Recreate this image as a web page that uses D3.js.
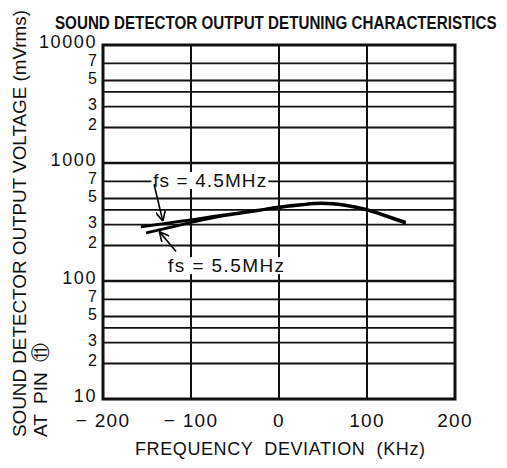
<!DOCTYPE html>
<html>
<head>
<meta charset="utf-8">
<script src="https://cdn.jsdelivr.net/npm/d3@7"></script>
<style>
  body { margin: 0; background: #fff; }
  svg { font-family: "Liberation Sans", Arial, sans-serif; }
</style>
</head>
<body>
<div id="chart"></div>
<script>
// frequency deviation (KHz) and output voltage (mVrms)
var freq45 = [-157, -125, -100, -75, -50, -25, 0, 25, 48, 75, 100, 120, 144];
var volt45 = [287, 311, 330, 352, 374, 398, 424, 445, 458, 441, 404, 362, 316];
var freq55 = [-151, -125, -100, -75, -50, -25, 0, 25, 48, 75, 100, 120, 144];
var volt55 = [255, 283, 314, 343, 368, 393, 418, 440, 452, 435, 398, 356, 308];

var xTicks = [-200, -100, 0, 100, 200];
var xTickLabels = ['\u2212 200', '\u2212 100', '0', '100', '200'];
var yGrid = [20, 30, 40, 50, 70, 100, 200, 300, 400, 500, 700, 1000, 2000, 3000, 4000, 5000, 7000];
var yDecades = [10, 100, 1000, 10000];
var yLabelVals = [10, 20, 30, 50, 70, 100, 200, 300, 500, 700, 1000, 2000, 3000, 5000, 7000, 10000];
var yLabelText = ['10', '2', '3', '5', '7', '100', '2', '3', '5', '7', '1000', '2', '3', '5', '7', '10000'];

(function(d3) {
  'use strict';
  var width = 507;
  var height = 468;
  var left = 103, right = 455, top = 45, bottom = 399;

  var svg = d3.select('#chart')
    .append('svg')
    .attr('width', width)
    .attr('height', height);

  var x = d3.scaleLinear().domain([-200, 200]).range([left, right]);
  var y = d3.scaleLog().domain([10, 10000]).range([bottom, top]);

  // grid
  svg.selectAll('.hgrid')
    .data(yGrid)
    .enter()
    .append('line')
    .attr('x1', left).attr('x2', right)
    .attr('y1', function(d) { return y(d); })
    .attr('y2', function(d) { return y(d); })
    .attr('stroke', '#111')
    .attr('stroke-width', function(d) { return yDecades.indexOf(d) >= 0 ? 2.6 : 1.8; });

  svg.selectAll('.vgrid')
    .data(xTicks.slice(1, -1))
    .enter()
    .append('line')
    .attr('y1', top).attr('y2', bottom)
    .attr('x1', function(d) { return x(d); })
    .attr('x2', function(d) { return x(d); })
    .attr('stroke', '#111')
    .attr('stroke-width', 2);

  svg.append('rect')
    .attr('x', left).attr('y', top)
    .attr('width', right - left).attr('height', bottom - top)
    .attr('fill', 'none')
    .attr('stroke', '#111')
    .attr('stroke-width', 3);

  // tick labels
  svg.selectAll('.ylab')
    .data(yLabelVals)
    .enter()
    .append('text')
    .attr('x', 97)
    .attr('y', function(d) { return y(d) + 3; })
    .attr('text-anchor', 'end')
    .attr('font-size', function(d) { return yDecades.indexOf(d) >= 0 ? 18 : 16; })
    .attr('letter-spacing', function(d) { return yDecades.indexOf(d) >= 0 ? 1.6 : 0; })
    .attr('fill', '#111')
    .text(function(d, i) { return yLabelText[i]; });

  svg.selectAll('.xlab')
    .data(xTicks)
    .enter()
    .append('text')
    .attr('x', function(d) { return x(d); })
    .attr('y', 427)
    .attr('text-anchor', 'middle')
    .attr('font-size', 19)
    .attr('letter-spacing', 1.3)
    .attr('fill', '#111')
    .text(function(d, i) { return xTickLabels[i]; });

  // titles (title squeezed horizontally like the condensed original)
  var title = svg.append('text')
    .attr('font-size', 19)
    .attr('font-weight', 'bold')
    .attr('fill', '#111')
    .text('SOUND DETECTOR OUTPUT DETUNING CHARACTERISTICS');
  var tw = title.node().getComputedTextLength();
  title.attr('transform', 'translate(55,29) scale(' + (442 / tw) + ',1)');

  svg.append('text')
    .attr('x', 135).attr('y', 455)
    .attr('font-size', 18)
    .attr('textLength', 290)
    .attr('fill', '#111')
    .attr('xml:space', 'preserve')
    .text('FREQUENCY  DEVIATION  (KHz)');

  svg.append('text')
    .attr('transform', 'translate(26,437) rotate(-90)')
    .attr('font-size', 19)
    .attr('textLength', 427)
    .attr('lengthAdjust', 'spacingAndGlyphs')
    .attr('fill', '#111')
    .text('SOUND  DETECTOR  OUTPUT  VOLTAGE  (mVrms)');

  svg.append('text')
    .attr('transform', 'translate(47,437) rotate(-90)')
    .attr('font-size', 19)
    .attr('fill', '#111')
    .attr('xml:space', 'preserve')
    .text('AT  PIN  \u246A');

  // curves
  var line = d3.line()
    .x(function(d) { return x(d[0]); })
    .y(function(d) { return y(d[1]); })
    .curve(d3.curveMonotoneX);

  svg.append('path')
    .datum(d3.zip(freq55, volt55))
    .attr('d', line)
    .attr('fill', 'none')
    .attr('stroke', '#000')
    .attr('stroke-width', 2.8);

  svg.append('path')
    .datum(d3.zip(freq45, volt45))
    .attr('d', line)
    .attr('fill', 'none')
    .attr('stroke', '#000')
    .attr('stroke-width', 2.8);

  // annotations
  svg.append('defs').append('marker')
    .attr('id', 'arr')
    .attr('viewBox', '0 0 10 10')
    .attr('refX', 10).attr('refY', 5)
    .attr('markerWidth', 10).attr('markerHeight', 10)
    .attr('markerUnits', 'userSpaceOnUse')
    .attr('orient', 'auto')
    .append('path')
    .attr('d', 'M0,0 L10,5 L0,10')
    .attr('fill', 'none')
    .attr('stroke', '#000')
    .attr('stroke-width', 1.6);

  var lab1 = svg.append('g');
  lab1.append('rect')
    .attr('x', x(-145)).attr('y', y(627) - 15)
    .attr('width', 117).attr('height', 17)
    .attr('fill', '#fff');
  lab1.append('text')
    .attr('x', x(-143)).attr('y', y(627))
    .attr('font-size', 19)
    .attr('textLength', 113)
    .attr('xml:space', 'preserve')
    .attr('fill', '#111')
    .text('fs = 4.5MHz');

  var lab2 = svg.append('g');
  lab2.append('rect')
    .attr('x', x(-128)).attr('y', y(119) - 15)
    .attr('width', 120).attr('height', 17)
    .attr('fill', '#fff');
  lab2.append('text')
    .attr('x', x(-126)).attr('y', y(119))
    .attr('font-size', 19)
    .attr('textLength', 116)
    .attr('xml:space', 'preserve')
    .attr('fill', '#111')
    .text('fs = 5.5MHz');

  svg.append('line')
    .attr('x1', x(-142)).attr('y1', y(660))
    .attr('x2', x(-132)).attr('y2', y(322))
    .attr('stroke', '#000').attr('stroke-width', 1.6)
    .attr('marker-end', 'url(#arr)');

  svg.append('line')
    .attr('x1', x(-117)).attr('y1', y(178))
    .attr('x2', x(-136)).attr('y2', y(262))
    .attr('stroke', '#000').attr('stroke-width', 1.6)
    .attr('marker-end', 'url(#arr)');
})(window.d3);
</script>
</body>
</html>
